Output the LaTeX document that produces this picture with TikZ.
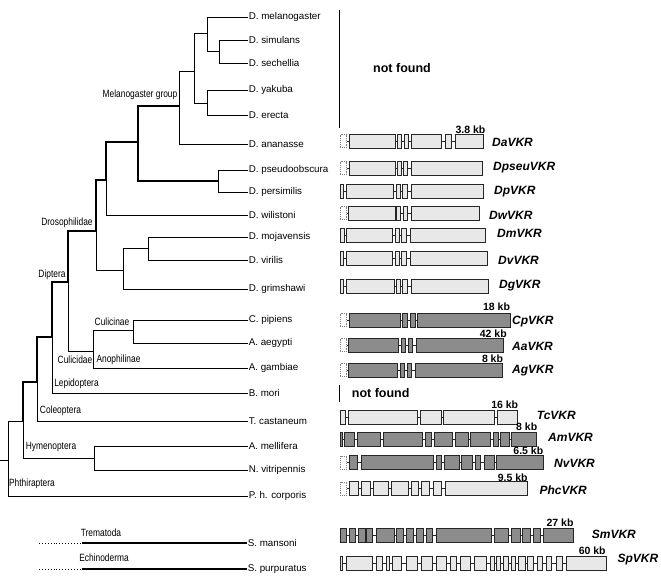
\documentclass[tikz,border=0pt]{standalone}
\usepackage{fontspec}
\setmainfont{Liberation Sans}
\definecolor{exlight}{RGB}{232,232,232}
\definecolor{exdark}{RGB}{140,140,140}
\tikzset{
 sp/.style={anchor=west, inner sep=0.6pt, font=\fontsize{9.8}{11}\selectfont},
 clade/.style={inner sep=0pt, xscale=0.8, font=\fontsize{10.5}{12}\selectfont},
 br/.style={line width=0.9pt},
 tk/.style={line width=1.7pt},
 exon/.style={draw=black!85, line width=0.85pt},
 lt/.style={exon, fill=exlight},
 dk/.style={exon, fill=exdark},
 dotbox/.style={draw=gray, densely dotted, line width=0.9pt, fill=white},
 intron/.style={line width=0.8pt, draw=black!85},
 gname/.style={anchor=west, inner sep=0pt, font=\fontsize{12}{14}\selectfont\bfseries\itshape},
 kb/.style={inner sep=0pt, font=\fontsize{10.5}{12}\selectfont\bfseries},
 nf/.style={anchor=west, inner sep=0pt, font=\fontsize{12.5}{14}\selectfont\bfseries},
 nfbar/.style={line width=1.6pt},
}
\newcommand{\gexons}[3]{\foreach \a/\b in {#3}{\path[#2] (\a,#1-7) rectangle (\b,#1+7);}}
\newcommand{\gdot}[1]{\path[dotbox] (340,#1-6.5) rectangle (346.7,#1+6.5);}
\newcommand{\gintron}[2]{\draw[intron] (340,#1) -- (#2,#1);}
\begin{document}
\begin{tikzpicture}[x=1pt,y=-1pt]
\useasboundingbox (0,0) rectangle (661,587);
% ---------- leaves
\node[sp] (dmel) at (248,17) {D. melanogaster};
\node[sp] (dsim) at (248,40) {D. simulans};
\node[sp] (dsec) at (248,63) {D. sechellia};
\node[sp] (dyak) at (248,90) {D. yakuba};
\node[sp] (dere) at (248,115) {D. erecta};
\node[sp] (dana) at (248,144) {D. ananasse};
\node[sp] (dpse) at (248,170) {D. pseudoobscura};
\node[sp] (dper) at (248,192) {D. persimilis};
\node[sp] (dwil) at (248,215) {D. wilistoni};
\node[sp] (dmoj) at (248,237) {D. mojavensis};
\node[sp] (dvir) at (248,260) {D. virilis};
\node[sp] (dgri) at (248,289) {D. grimshawi};
\node[sp] (cpip) at (248,320) {C. pipiens};
\node[sp] (aaeg) at (248,343) {A. aegypti};
\node[sp] (agam) at (248,368) {A. gambiae};
\node[sp] (bmor) at (248,393) {B. mori};
\node[sp] (tcas) at (248,421) {T. castaneum};
\node[sp] (amel) at (248,446) {A. mellifera};
\node[sp] (nvit) at (248,470) {N. vitripennis};
\node[sp] (pcor) at (248,496) {P. h. corporis};
\node[sp] (sman) at (247,543) {S. mansoni};
\node[sp] (spur) at (247,569) {S. purpuratus};
% ---------- internal nodes
\coordinate (rootstub) at (0,460);
\coordinate (root) at (8,460);
\coordinate (holo) at (23,421);
\coordinate (hym) at (94,458);
\coordinate (hc) at (37,382);
\coordinate (dl) at (52,337);
\coordinate (dip) at (68,282);
\coordinate (dros) at (96,231);
\coordinate (cul) at (93,351);
\coordinate (culi) at (133,330);
\coordinate (sw) at (106,180);
\coordinate (soph) at (138,142);
\coordinate (mg) at (179,106);
\coordinate (m5) at (194,71);
\coordinate (msm) at (207,33);
\coordinate (ss) at (219,51);
\coordinate (ye) at (207,103);
\coordinate (obs) at (218,181);
\coordinate (drg) at (123,270);
\coordinate (mv) at (148,248);
% ---------- branches
\draw[br] (rootstub) -- (root);
\draw[br] (root) |- (holo);
\draw[br] (root) |- (pcor.west);
\draw[br] (holo) |- (hym);
\draw[tk] (holo) |- (hc);
\draw[br] (hym) |- (amel.west);
\draw[br] (hym) |- (nvit.west);
\draw[br] (hc) |- (tcas.west);
\draw[tk] (hc) |- (dl);
\draw[br] (dl) |- (bmor.west);
\draw[tk] (dl) |- (dip);
\draw[tk] (dip) |- (dros);
\draw[br] (dip) |- (cul);
\draw[br] (cul) |- (culi);
\draw[br] (cul) |- (agam.west);
\draw[br] (culi) |- (cpip.west);
\draw[br] (culi) |- (aaeg.west);
\draw[tk] (dros) |- (sw);
\draw[br] (dros) |- (drg);
\draw[br] (drg) |- (mv);
\draw[br] (drg) |- (dgri.west);
\draw[br] (mv) |- (dmoj.west);
\draw[br] (mv) |- (dvir.west);
\draw[tk] (sw) |- (soph);
\draw[br] (sw) |- (dwil.west);
\draw[tk] (soph) |- (mg);
\draw[tk] (soph) |- (obs);
\draw[br] (obs) |- (dpse.west);
\draw[br] (obs) |- (dper.west);
\draw[br] (mg) |- (m5);
\draw[br] (mg) |- (dana.west);
\draw[br] (m5) |- (msm);
\draw[br] (m5) |- (ye);
\draw[br] (msm) |- (dmel.west);
\draw[br] (msm) |- (ss);
\draw[br] (ss) |- (dsim.west);
\draw[br] (ss) |- (dsec.west);
\draw[br] (ye) |- (dyak.west);
\draw[br] (ye) |- (dere.west);
% outgroups
\coordinate (tm0) at (39,543); \coordinate (tm1) at (82,543);
\coordinate (ec0) at (39,569); \coordinate (ec1) at (82,569);
\draw[br, dotted] (tm0) -- (tm1);
\draw[line width=1.4pt] (tm1) -- (sman.west);
\draw[br, dotted] (ec0) -- (ec1);
\draw[line width=1.4pt] (ec1) -- (spur.west);
% ---------- clade labels
\node[clade] (lmg) at (140,95) {Melanogaster group};
\node[clade] (ldros) at (67,223) {Drosophilidae};
\node[clade] (ldip) at (52,275) {Diptera};
\node[clade] (lculi) at (112,322) {Culicinae};
\node[clade] (lcul) at (75,360) {Culicidae};
\node[clade] (lanop) at (118.5,360) {Anophilinae};
\node[clade] (llep) at (76.5,384) {Lepidoptera};
\node[clade] (lcol) at (60.5,411) {Coleoptera};
\node[clade] (lhym) at (51,447) {Hymenoptera};
\node[clade] (lphth) at (32,484) {Phthiraptera};
\node[clade] (ltrem) at (101,533) {Trematoda};
\node[clade] (lech) at (104,558) {Echinoderma};
% ---------- not found
\coordinate (nfa) at (339.5,10); \coordinate (nfb) at (339.5,128);
\draw[nfbar] (nfa) -- (nfb);
\node[nf] (nf1) at (373,68) {not found};
\coordinate (nfc) at (339.5,385); \coordinate (nfd) at (339.5,402);
\draw[nfbar] (nfc) -- (nfd);
\node[nf] (nf2) at (351.7,393) {not found};
% ---------- gene structures
% Da
\gintron{141}{483}
\gdot{141}
\gexons{141}{lt}{349/395, 397.7/401.7, 404/408.3, 411/441.7, 445/451.7, 455.7/483.3}
% Dpseu
\gintron{168}{482}
\gdot{168}
\gexons{168}{lt}{349/395, 397/401.7, 403/407.7, 411/482.3}
% Dp
\gintron{191}{483}
\gexons{191}{lt}{340/343.3, 346.7/393.3, 396/400.3, 402.7/407.3, 411/483.3}
% Dw
\gintron{213}{479}
\gdot{213}
\gexons{213}{lt}{348.3/395, 396.7/400.7, 403/407.3, 411/479}
% Dm
\gintron{235.5}{485}
\gexons{235.5}{lt}{340/344.3, 346.7/392.3, 395/399.3, 401.7/406.3, 410/485.7}
% Dv
\gintron{258.5}{487}
\gexons{258.5}{lt}{340/343.3, 346/392.3, 395/399.3, 401.7/406.3, 410/487.3}
% Dg
\gintron{286}{488}
\gexons{286}{lt}{340/343.3, 346.7/394, 396/400.7, 402.7/407.3, 411.7/488.3}
% Cp
\gintron{320}{510}
\gdot{320}
\gexons{320}{dk}{349/400, 402.7/407.3, 410/415, 417.7/510}
% Aa
\gintron{345}{503}
\gdot{345}
\gexons{345}{dk}{348.3/398.3, 401/405.7, 408.3/412.7, 416/503.3}
% Ag
\gintron{370}{502}
\gdot{370}
\gexons{370}{dk}{348.3/397.3, 400/404.3, 407.3/411.7, 415/502.3}
% Tc
\gintron{417.5}{517}
\gexons{417.5}{lt}{340/345, 348.3/417.3, 420.7/441, 443.3/494.3, 497.7/517.7}
% Am
\gintron{439}{536}
\gexons{439}{dk}{340/342.3, 344/354.3, 357.7/380.7, 383.3/422.3, 425.7/431.7, 434.3/452.3, 455/468.3, 470.7/490.7, 493.3/498.3, 500.7/509, 511.7/536.7}
% Nv
\gintron{462.5}{543}
\gdot{462.5}
\gexons{462.5}{dk}{349/357.7, 361/433.3, 436/441, 444.3/459, 461.7/472.3, 475/480.7, 484/494, 496/543.3}
% Phc
\gintron{488.5}{527}
\gdot{488.5}
\gexons{488.5}{lt}{349/358.3, 361/370, 373.3/388.3, 391/408.3, 411/418.3, 421.7/429, 433.3/441.7, 445.7/527.7}
% Sm
\gintron{535.5}{573}
\gexons{535.5}{dk}{340/346.7, 349/355.7, 358.3/365, 366.7/372.7, 376/394.3, 396.7/403.3, 406/413.3, 416/423.3, 426/432.3, 436/491, 494/508.3, 511.7/520, 522.7/530.7, 533.3/540.7, 543.3/573.3}
% Sp
\gintron{563.5}{606}
\gexons{563.5}{lt}{340/342.7, 346.7/372.7, 376.7/382.7, 386.7/389.3, 392.7/401, 406/417.7, 421.7/432.7, 436.7/446.7, 450.7/456.7, 460/470.7, 474/486.7, 490/494, 496.7/500.7, 503.3/508.3, 511/515, 518.3/525, 527.3/533.3, 537.3/542.7, 546.7/551.7, 556/562.3, 566/606}
% ---------- gene names
\node[gname] (gda) at (492,142) {DaVKR};
\node[gname] (gdpseu) at (493,168) {DpseuVKR};
\node[gname] (gdp) at (494,192) {DpVKR};
\node[gname] (gdw) at (489,215) {DwVKR};
\node[gname] (gdm) at (497,233) {DmVKR};
\node[gname] (gdv) at (498,260) {DvVKR};
\node[gname] (gdg) at (499,286) {DgVKR};
\node[gname] (gcp) at (512,321.5) {CpVKR};
\node[gname] (gaa) at (512,346.5) {AaVKR};
\node[gname] (gag) at (512,371) {AgVKR};
\node[gname] (gtc) at (536.7,415) {TcVKR};
\node[gname] (gam) at (548,437.3) {AmVKR};
\node[gname] (gnv) at (554,463.3) {NvVKR};
\node[gname] (gphc) at (539.3,490) {PhcVKR};
\node[gname] (gsm) at (591.7,534) {SmVKR};
\node[gname] (gsp) at (617.3,559.3) {SpVKR};
% ---------- sizes
\node[kb] (kda) at (470.5,130) {3.8 kb};
\node[kb] (kcp) at (496.5,306.7) {18 kb};
\node[kb] (kaa) at (493.3,333.3) {42 kb};
\node[kb] (kag) at (492.5,358.3) {8 kb};
\node[kb] (ktc) at (504.7,405) {16 kb};
\node[kb] (kam) at (526.7,426.7) {8 kb};
\node[kb] (knv) at (528.3,450.7) {6.5 kb};
\node[kb] (kphc) at (512.7,477.3) {9.5 kb};
\node[kb] (ksm) at (560,522.7) {27 kb};
\node[kb] (ksp) at (592.2,551) {60 kb};
\end{tikzpicture}
\end{document}
